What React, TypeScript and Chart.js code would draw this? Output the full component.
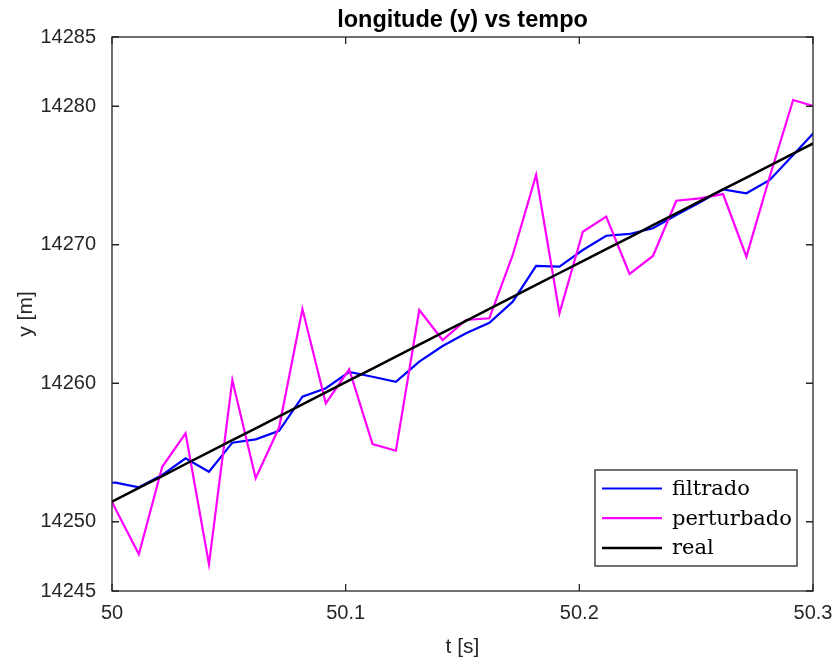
import React, { useEffect, useRef } from 'react';
import { Chart, registerables } from 'chart.js';

Chart.register(...registerables);

const TITLE = 'longitude (y) vs tempo';
const X_LABEL = 't [s]';
const Y_LABEL = 'y [m]';
const SERIES_LABELS = ['filtrado', 'perturbado', 'real'];
const SERIES_COLORS = ['#0000FF', '#FF00FF', '#000000'];

const X_TICKS = [50, 50.1, 50.2, 50.3];
const Y_TICKS = [14245, 14250, 14260, 14270, 14280, 14285];

const TIME = [
  49.9915, 50.0015, 50.0115, 50.0215, 50.0315, 50.0415, 50.0515, 50.0615,
  50.0715, 50.0815, 50.0915, 50.1015, 50.1115, 50.1215, 50.1315, 50.1415,
  50.1515, 50.1615, 50.1715, 50.1815, 50.1915, 50.2015, 50.2115, 50.2215,
  50.2315, 50.2415, 50.2515, 50.2615, 50.2715, 50.2815, 50.2915, 50.3015,
];

const FILTRADO = [
  14252.8, 14252.82, 14252.49, 14253.38, 14254.58, 14253.61, 14255.71, 14255.95,
  14256.57, 14259.03, 14259.64, 14260.81, 14260.47, 14260.11, 14261.56, 14262.69,
  14263.61, 14264.37, 14265.89, 14268.47, 14268.42, 14269.62, 14270.65, 14270.78,
  14271.19, 14272.15, 14273.04, 14274.0, 14273.72, 14274.68, 14276.48, 14278.29,
];

const PERTURBADO = [
  14254.5, 14250.92, 14247.65, 14253.97, 14256.39, 14246.93, 14260.23, 14253.14,
  14256.8, 14265.36, 14258.55, 14261.01, 14255.61, 14255.13, 14265.29, 14263.12,
  14264.57, 14264.69, 14269.26, 14275.04, 14265.05, 14270.94, 14272.03, 14267.89,
  14269.19, 14273.18, 14273.35, 14273.66, 14269.14, 14274.93, 14280.45, 14279.95,
];

const REAL = [
  14250.72, 14251.58, 14252.44, 14253.3, 14254.17, 14255.03, 14255.89, 14256.75,
  14257.61, 14258.48, 14259.34, 14260.2, 14261.06, 14261.92, 14262.79, 14263.65,
  14264.51, 14265.37, 14266.23, 14267.1, 14267.96, 14268.82, 14269.68, 14270.54,
  14271.41, 14272.27, 14273.13, 14273.99, 14274.85, 14275.72, 14276.58, 14277.44,
];

const AXIS_COLOR = '#262626';
const SANS = '"Liberation Sans", Arial, Helvetica, sans-serif';
const SERIF = '"DejaVu Serif", "Liberation Serif", serif';
const LINE_WIDTHS = [2.2, 2.2, 2.5];

const framePlugin = {
  id: 'matlabFrame',
  afterDatasetsDraw(chart: any) {
    const { ctx, chartArea } = chart;
    const xs = chart.scales.x;
    const ys = chart.scales.y;
    const { left, right, top, bottom } = chartArea;
    ctx.save();
    ctx.strokeStyle = AXIS_COLOR;
    ctx.lineWidth = 1.3;
    ctx.strokeRect(left, top, right - left, bottom - top);
    const tl = 7;
    ctx.beginPath();
    X_TICKS.forEach((v) => {
      const px = xs.getPixelForValue(v);
      ctx.moveTo(px, bottom);
      ctx.lineTo(px, bottom - tl);
      ctx.moveTo(px, top);
      ctx.lineTo(px, top + tl);
    });
    Y_TICKS.forEach((v) => {
      const py = ys.getPixelForValue(v);
      ctx.moveTo(left, py);
      ctx.lineTo(left + tl, py);
      ctx.moveTo(right, py);
      ctx.lineTo(right - tl, py);
    });
    ctx.stroke();

    // title
    ctx.fillStyle = '#000000';
    ctx.font = `bold 23.5px ${SANS}`;
    ctx.textAlign = 'center';
    ctx.textBaseline = 'alphabetic';
    ctx.fillText(TITLE, (left + right) / 2, 27);

    // axis labels
    ctx.fillStyle = AXIS_COLOR;
    ctx.font = `21px ${SANS}`;
    ctx.textBaseline = 'middle';
    ctx.fillText(X_LABEL, (left + right) / 2, 647);
    ctx.save();
    ctx.translate(26, (top + bottom) / 2);
    ctx.rotate(-Math.PI / 2);
    ctx.fillText(Y_LABEL, 0, 0);
    ctx.restore();

    // legend
    const bx = right - 218;
    const by = bottom - 121;
    const bw = 202;
    const bh = 96;
    ctx.fillStyle = '#ffffff';
    ctx.fillRect(bx, by, bw, bh);
    ctx.strokeStyle = AXIS_COLOR;
    ctx.lineWidth = 1.3;
    ctx.strokeRect(bx, by, bw, bh);
    ctx.font = `21px ${SERIF}`;
    ctx.textAlign = 'left';
    ctx.textBaseline = 'middle';
    SERIES_LABELS.forEach((lab, i) => {
      const ly = by + 18.5 + i * 29.7;
      ctx.strokeStyle = SERIES_COLORS[i];
      ctx.lineWidth = LINE_WIDTHS[i];
      ctx.beginPath();
      ctx.moveTo(bx + 7, ly);
      ctx.lineTo(bx + 67, ly);
      ctx.stroke();
      ctx.fillStyle = '#000000';
      ctx.fillText(lab, bx + 77, ly + 1);
    });
    ctx.restore();
  },
};

export default function App() {
  const ref = useRef<HTMLCanvasElement | null>(null);

  useEffect(() => {
    if (!ref.current) return;
    const mk = (ys: number[]) => TIME.map((t, i) => ({ x: t, y: ys[i] }));
    const chart = new Chart(ref.current, {
      type: 'line',
      data: {
        datasets: [
          {
            label: SERIES_LABELS[2],
            data: mk(REAL),
            borderColor: SERIES_COLORS[2],
            borderWidth: LINE_WIDTHS[2],
            pointRadius: 0,
            tension: 0,
            clip: 0,
            order: 0,
          },
          {
            label: SERIES_LABELS[1],
            data: mk(PERTURBADO),
            borderColor: SERIES_COLORS[1],
            borderWidth: LINE_WIDTHS[1],
            pointRadius: 0,
            tension: 0,
            clip: 0,
            order: 1,
          },
          {
            label: SERIES_LABELS[0],
            data: mk(FILTRADO),
            borderColor: SERIES_COLORS[0],
            borderWidth: LINE_WIDTHS[0],
            pointRadius: 0,
            tension: 0,
            clip: 0,
            order: 2,
          },
        ],
      },
      options: {
        responsive: false,
        animation: false,
        devicePixelRatio: 1,
        layout: { padding: { left: 0, right: 25, top: 37, bottom: 0 } },
        plugins: {
          legend: { display: false },
          title: { display: false },
          tooltip: { enabled: false },
        },
        scales: {
          x: {
            type: 'linear',
            min: 50,
            max: 50.3,
            grid: { display: false },
            border: { display: false },
            afterBuildTicks: (scale: any) => {
              scale.ticks = X_TICKS.map((v) => ({ value: v }));
            },
            afterFit: (scale: any) => {
              scale.height = 75;
            },
            ticks: {
              padding: 2,
              color: AXIS_COLOR,
              font: { family: SANS, size: 20 },
              maxRotation: 0,
              autoSkip: false,
              callback: (v: any) => String(Number(Number(v).toFixed(2))),
            },
          },
          y: {
            type: 'linear',
            min: 14245,
            max: 14285,
            grid: { display: false },
            border: { display: false },
            afterBuildTicks: (scale: any) => {
              scale.ticks = Y_TICKS.map((v) => ({ value: v }));
            },
            afterFit: (scale: any) => {
              scale.width = 112;
            },
            ticks: {
              padding: 8,
              color: AXIS_COLOR,
              font: { family: SANS, size: 20 },
              autoSkip: false,
              callback: (v: any) => String(v),
            },
          },
        },
      },
      plugins: [framePlugin],
    });
    return () => chart.destroy();
  }, []);

  return (
    <div style={{ position: 'fixed', left: 0, top: 0, width: 838, height: 666, background: '#ffffff' }}>
      <canvas ref={ref} width={838} height={666} style={{ display: 'block' }} />
    </div>
  );
}
